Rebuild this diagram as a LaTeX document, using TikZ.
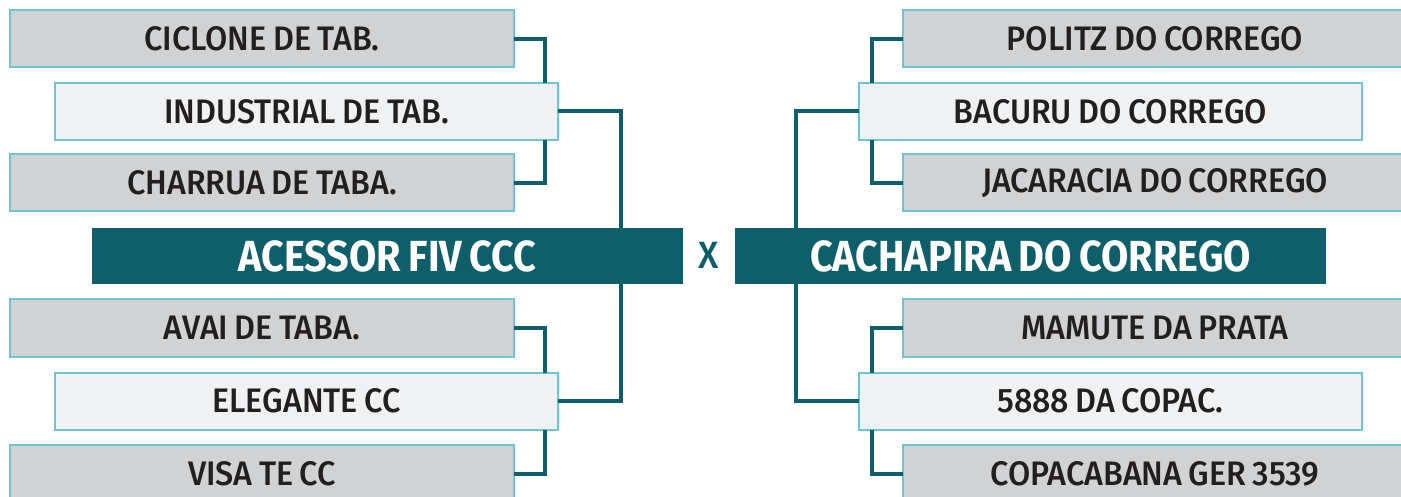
\documentclass[tikz,border=0pt]{standalone}
\usepackage{fontspec}
\setmainfont{Fira Sans}[FakeStretch=0.95, WordSpace=0.8, UprightFont={* Medium}]
\newfontfamily\headfont{Fira Sans Bold}[FakeStretch=0.91, WordSpace=0.8]
\definecolor{teal}{HTML}{0E5F69}
\definecolor{rim}{HTML}{6CC5D3}
\definecolor{greyf}{HTML}{D1D2D4}
\definecolor{lightf}{HTML}{F0F1F3}
\definecolor{ink}{HTML}{231F20}
\tikzset{
  team/.style={draw=rim, line width=2pt, minimum height=57pt, inner sep=0pt, outer sep=0pt,
    text=ink, font=\fontsize{34}{38}\selectfont},
  gbox/.style={team, fill=greyf, minimum width=504pt},
  lbox/.style={team, fill=lightf, minimum width=503pt},
  headbox/.style={fill=teal, minimum width=591pt, minimum height=56pt, inner sep=0pt, outer sep=0pt,
    text=white, font=\fontsize{43.5}{46}\headfont},
  conn/.style={draw=teal, line width=4pt}
}
\begin{document}
\begin{tikzpicture}[x=1pt,y=-1pt]
\useasboundingbox (0,0) rectangle (1401,497);
% left side
\node[gbox] (c1) at (262,39) {CICLONE DE TAB.};
\node[lbox] (i1) at (306.5,111.5) {INDUSTRIAL DE TAB.};
\node[gbox] (c2) at (262,183) {CHARRUA DE TABA.};
\node[headbox] (a1) at (387.5,256) {ACESSOR FIV CCC};
\node[gbox] (c3) at (262,328) {AVAI DE TABA.};
\node[lbox] (i2) at (306.5,401) {ELEGANTE CC};
\node[gbox] (c4) at (262,473.5) {VISA TE CC};
% center
\node[text=teal, font=\fontsize{38}{42}\selectfont] (x) at (709,255) {X};
% right side
\node[headbox] (a2) at (1030.5,256) {CACHAPIRA DO CORREGO};
\node[gbox] (r1) at (1155,39) {POLITZ DO CORREGO};
\node[lbox] (j1) at (1110.5,111.5) {BACURU DO CORREGO};
\node[gbox] (r2) at (1155,183) {JACARACIA DO CORREGO};
\node[gbox] (r3) at (1155,328) {MAMUTE DA PRATA};
\node[lbox] (j2) at (1110.5,401) {5888 DA COPAC.};
\node[gbox] (r4) at (1155,473.5) {COPACABANA GER 3539};
% vertical line positions
\coordinate (vl) at (545,0);
\coordinate (ml) at (621,0);
\coordinate (vr) at (872,0);
\coordinate (mr) at (796,0);
% connectors left
\draw[conn] (c1.east) -| (i1.north -| vl);
\draw[conn] (c2.east) -| (i1.south -| vl);
\draw[conn] (i1.east) -| (a1.north -| ml);
\draw[conn] (c3.east) -| (i2.north -| vl);
\draw[conn] (c4.east) -| (i2.south -| vl);
\draw[conn] (i2.east) -| (a1.south -| ml);
% connectors right
\draw[conn] (r1.west) -| (j1.north -| vr);
\draw[conn] (r2.west) -| (j1.south -| vr);
\draw[conn] (j1.west) -| (a2.north -| mr);
\draw[conn] (r3.west) -| (j2.north -| vr);
\draw[conn] (r4.west) -| (j2.south -| vr);
\draw[conn] (j2.west) -| (a2.south -| mr);
\end{tikzpicture}
\end{document}
